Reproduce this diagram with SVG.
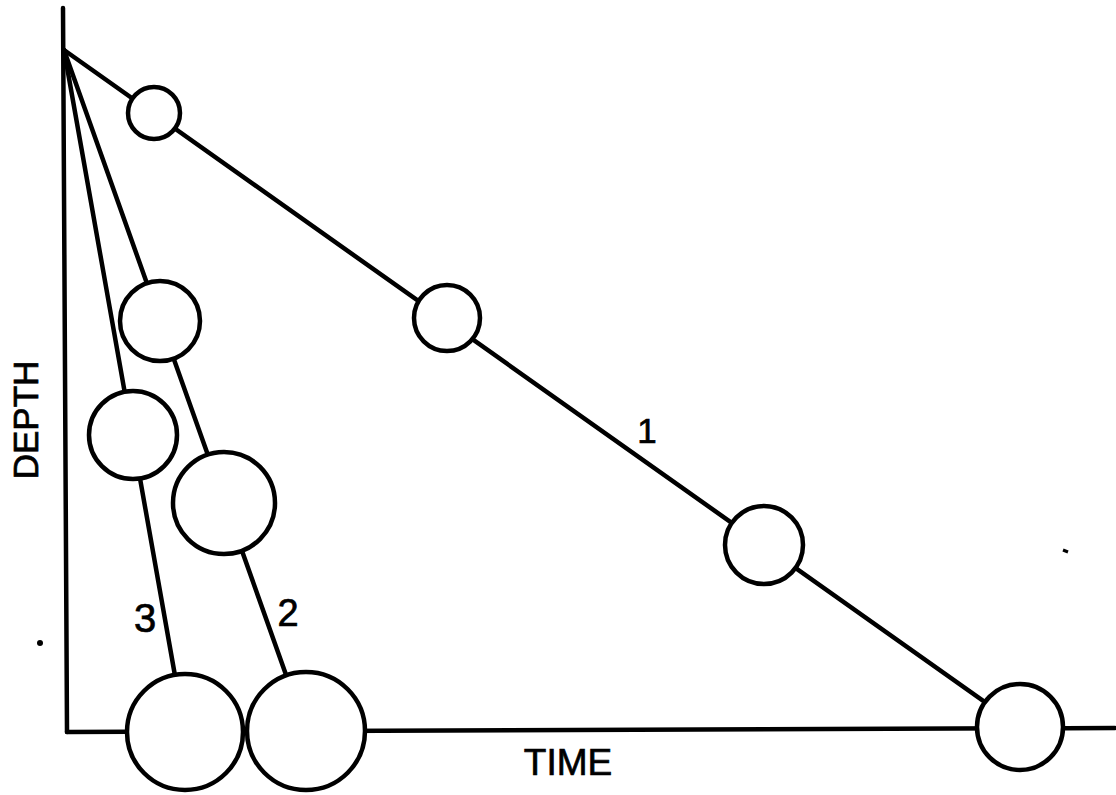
<svg xmlns="http://www.w3.org/2000/svg" width="1116" height="795" viewBox="0 0 1116 795">
  <style>
    .ln { stroke: #000; stroke-width: 4.5; fill: none; stroke-linecap: round; }
    .nd circle { stroke: #000; stroke-width: 4.5; fill: #fff; }
    .lbl { font-family: "Liberation Sans", "DejaVu Sans", sans-serif; fill: #000; stroke: #000; stroke-width: 0.7; }
  </style>
  <rect width="1116" height="795" fill="#fff"/>

  <!-- axes -->
  <g id="axes">
    <path class="ln" d="M63 8 L67 732"/>
    <path class="ln" d="M67 732 L1115 728"/>
  </g>

  <!-- trajectories from the origin -->
  <g id="connectors">
    <path class="ln" d="M64 50 L1020 727"/>
    <path class="ln" d="M64 50 L306 731"/>
    <path class="ln" d="M64 50 L185 732"/>
  </g>

  <!-- path 1 -->
  <g id="n1a" class="nd"><circle cx="154" cy="113" r="26"/></g>
  <g id="n1b" class="nd"><circle cx="447" cy="318" r="33"/></g>
  <g id="n1c" class="nd"><circle cx="764" cy="545" r="39"/></g>
  <g id="n1d" class="nd"><circle cx="1020" cy="727" r="43"/></g>

  <!-- path 2 -->
  <g id="n2a" class="nd"><circle cx="160" cy="321" r="40"/></g>
  <g id="n2b" class="nd"><circle cx="224" cy="503" r="51"/></g>
  <g id="n2c" class="nd"><circle cx="306" cy="731" r="59"/></g>

  <!-- path 3 -->
  <g id="n3a" class="nd"><circle cx="133" cy="435" r="44"/></g>
  <g id="n3b" class="nd"><circle cx="185" cy="732" r="58"/></g>

  <!-- labels -->
  <g id="labels">
    <text class="lbl" x="647" y="443" font-size="35" text-anchor="middle">1</text>
    <text class="lbl" x="288" y="626" font-size="38" text-anchor="middle">2</text>
    <text class="lbl" x="145" y="632" font-size="40" text-anchor="middle">3</text>
    <text class="lbl" x="568" y="775" font-size="37" text-anchor="middle">TIME</text>
    <text class="lbl" transform="translate(38 420) rotate(-90)" font-size="35" text-anchor="middle">DEPTH</text>
  </g>

  <!-- stray marks -->
  <circle cx="40" cy="643" r="3" fill="#000"/>
  <path d="M1063 550 L1068 552" stroke="#000" stroke-width="3"/>
</svg>
